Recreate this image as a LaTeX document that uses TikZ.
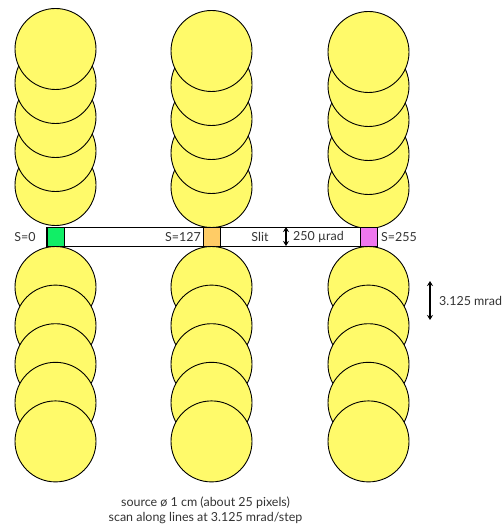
\documentclass[tikz,border=0pt]{standalone}
\usepackage{fontspec}
\setmainfont{Lato}
\usetikzlibrary{arrows.meta}
\definecolor{spotyellow}{HTML}{FFFA6A}
\definecolor{sqgreen}{HTML}{11EE66}
\definecolor{sqorange}{HTML}{FFCC66}
\definecolor{sqmagenta}{HTML}{EE77EE}
\tikzset{
  spot/.style={circle, draw=black, fill=spotyellow, line width=0.9bp, minimum size=81bp, inner sep=0pt},
  pixbox/.style={rectangle, draw=black, line width=1bp, minimum width=17bp, minimum height=19bp, inner sep=0pt},
  slitbox/.style={rectangle, draw=black, fill=white, line width=1bp, minimum width=330bp, minimum height=19bp, inner sep=0pt},
  lbl/.style={font=\fontsize{12.5}{15}\selectfont, inner sep=0pt, text=black!80},
  dimarrow/.style={line width=1.2bp, {Stealth[length=5bp,width=6bp]}-{Stealth[length=5bp,width=6bp]}}
}
\begin{document}
\begin{tikzpicture}[x=1bp,y=-1bp]
\useasboundingbox (0,0) rectangle (504,525);
% top columns (lower circles drawn first)
\foreach \c/\x/\t in {L/55.5/49, M/211.5/51, R/368.5/52}{
  \foreach \i in {5,4,3,2,1}{
    \node[spot] (top\c\i) at (\x,{\t+34*(\i-1)}) {};
  }
}
% slit
\node[slitbox] (slit) at (212,236.5) {};
\node[pixbox, fill=sqgreen] (p0) at (55.5,236.5) {};
\node[pixbox, fill=sqorange] (p127) at (211.5,236.5) {};
\node[pixbox, fill=sqmagenta] (p255) at (369,236.5) {};
% bottom columns (upper circles drawn first)
\foreach \c/\x in {L/55.5, M/211.5, R/368.5}{
  \foreach \i in {1,2,3,4,5}{
    \node[spot] (bot\c\i) at (\x,{287+38.6*(\i-1)}) {};
  }
}
% labels
\node[lbl] (s0) at (25,237) {S=0};
\node[lbl, anchor=east] (s127) at (201,237) {S=127};
\node[lbl] (slitlbl) at (260,237) {Slit};
\node[lbl, anchor=west] (urad) at (293,237) {250 µrad};
\node[lbl, anchor=west] (s255) at (381,237) {S=255};
% slit width arrow
\coordinate (sw1) at (286,227);
\coordinate (sw2) at (286,246);
\draw[dimarrow] (sw1) -- (sw2);
% step arrow
\coordinate (st1) at (430,281);
\coordinate (st2) at (430,320);
\draw[dimarrow] (st1) -- (st2);
\node[lbl, anchor=west] (mrad) at (439,300.5) {3.125 mrad};
% caption
\node[lbl, align=center, font=\fontsize{12.5}{15}\selectfont] (cap) at (205.5,510.5) {source ø 1 cm (about 25 pixels)\\scan along lines at 3.125 mrad/step};
\end{tikzpicture}
\end{document}
